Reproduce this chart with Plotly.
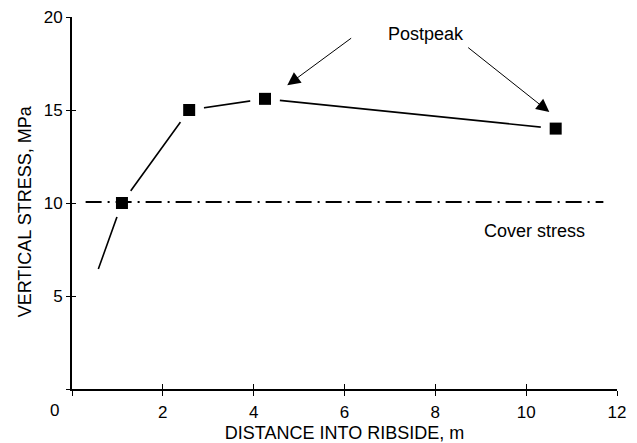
import plotly.graph_objects as go

# Measured vertical stress profile into the ribside
distance_m = [0.58, 1.1, 2.58, 4.25, 10.65]
stress_mpa = [6.45, 10.0, 15.0, 15.6, 14.0]
measured_from = 1  # first entry is the extrapolated start of the curve (no marker)

# Cover (overburden) stress reference line
cover_x = [0.3, 11.7]
cover_stress = 10.05

# "Postpeak" callout: (tip_x, tip_y, tail_x, tail_y)
postpeak_arrows = [
    (4.74, 16.33, 6.18, 18.92),
    (10.51, 14.89, 8.69, 18.42),
]

x_ticks = [0, 2, 4, 6, 8, 10, 12]
y_ticks = [0, 5, 10, 15, 20]

FONT = "Liberation Sans, Arial, sans-serif"
FS = 18      # titles and notes
FS_TICK = 17

fig = go.Figure()

# connecting line
fig.add_trace(go.Scatter(
    x=distance_m, y=stress_mpa, mode="lines",
    line=dict(color="black", width=1.6), hoverinfo="skip", showlegend=False,
))
# white halo that opens a gap in the line around each measured point
fig.add_trace(go.Scatter(
    x=distance_m[measured_from:], y=stress_mpa[measured_from:], mode="markers",
    marker=dict(symbol="circle", size=30, color="white", line=dict(width=0)),
    hoverinfo="skip", showlegend=False,
))
# cover stress, dash-dot
fig.add_trace(go.Scatter(
    x=cover_x, y=[cover_stress] * len(cover_x), mode="lines",
    line=dict(color="black", width=2, dash="16px,6px,2px,6px"),
    hoverinfo="skip", showlegend=False,
))
# measured points
fig.add_trace(go.Scatter(
    x=distance_m[measured_from:], y=stress_mpa[measured_from:], mode="markers",
    marker=dict(symbol="square", size=12, color="black", line=dict(width=0)),
    showlegend=False,
))
# invisible trace so the inner-tick overlay axes are drawn
fig.add_trace(go.Scatter(
    x=[0], y=[0], xaxis="x2", yaxis="y2", mode="markers",
    marker=dict(opacity=0), hoverinfo="skip", showlegend=False,
))

annotations = [
    dict(x=7.79, y=19.11, xref="x", yref="y", text="Postpeak", showarrow=False,
         font=dict(family=FONT, size=FS, color="black")),
    dict(x=10.18, y=8.51, xref="x", yref="y", text="Cover stress", showarrow=False,
         font=dict(family=FONT, size=FS, color="black")),
    dict(x=0, y=0, xref="x", yref="y", text="0", showarrow=False,
         xshift=-18, yshift=-21,
         font=dict(family=FONT, size=FS_TICK, color="black")),
    dict(x=-0.086, y=0.478, xref="paper", yref="paper", text="VERTICAL STRESS, MPa",
         textangle=-90, showarrow=False, xanchor="center", yanchor="middle",
         font=dict(family=FONT, size=FS, color="black")),
]
for tx, ty, sx, sy in postpeak_arrows:
    annotations.append(dict(
        x=tx, y=ty, ax=sx, ay=sy, xref="x", yref="y", axref="x", ayref="y",
        text="", showarrow=True, arrowhead=2, arrowsize=2.6, arrowwidth=1,
        arrowcolor="black", standoff=0,
    ))

fig.update_layout(
    width=637, height=443,
    margin=dict(l=72, r=20, t=17, b=54),
    paper_bgcolor="white", plot_bgcolor="white",
    font=dict(family=FONT, size=FS, color="black"),
    xaxis=dict(
        range=[0, 12], tickvals=x_ticks,
        ticktext=["" if v == 0 else str(v) for v in x_ticks],
        tickfont=dict(family=FONT, size=FS_TICK),
        ticks="outside", ticklen=5, tickwidth=1, tickcolor="black",
        ticklabelstandoff=2, automargin=False,
        showline=True, linecolor="black", linewidth=1.6,
        showgrid=False, zeroline=False,
        title=dict(text="DISTANCE INTO RIBSIDE, m", standoff=9,
                   font=dict(family=FONT, size=FS)),
    ),
    yaxis=dict(
        range=[0, 20], tickvals=y_ticks,
        ticktext=["" if v == 0 else str(v) for v in y_ticks],
        tickfont=dict(family=FONT, size=FS_TICK),
        ticks="outside", ticklen=4, tickwidth=1, tickcolor="black",
        automargin=False,
        showline=True, linecolor="black", linewidth=2,
        showgrid=False, zeroline=False,
    ),
    xaxis2=dict(
        overlaying="x", range=[0, 12], tickvals=x_ticks, showticklabels=False,
        ticks="inside", ticklen=5, tickwidth=1, tickcolor="black",
        showline=False, showgrid=False, zeroline=False, anchor="y2",
        automargin=False,
    ),
    yaxis2=dict(
        overlaying="y", range=[0, 20], tickvals=y_ticks, showticklabels=False,
        ticks="inside", ticklen=4, tickwidth=1, tickcolor="black",
        showline=False, showgrid=False, zeroline=False, anchor="x2",
        automargin=False,
    ),
    annotations=annotations,
)

fig.write_html("out.html")
